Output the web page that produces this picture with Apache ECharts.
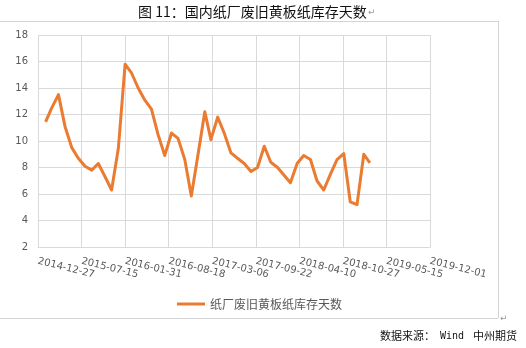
<!DOCTYPE html>
<html>
<head>
<meta charset="utf-8">
<script src="https://cdn.jsdelivr.net/npm/echarts@6/dist/echarts.min.js"></script>
<style>html,body{margin:0;padding:0;background:#fff;}#c{width:526px;height:348px;}</style>
</head>
<body>
<div id="c"></div>
<script>
const baseDate = '2014-12-27';
const tickLabels = ['2014-12-27','2015-07-15','2016-01-31','2016-08-18','2017-03-06','2017-09-22','2018-04-10','2018-10-27','2019-05-15','2019-12-01'];
const dates = [
  '2015-01-31','2015-02-28','2015-03-31','2015-04-30','2015-05-31','2015-06-30','2015-07-31','2015-08-31','2015-09-30','2015-10-31','2015-11-30','2015-12-31',
  '2016-01-31','2016-02-29','2016-03-31','2016-04-30','2016-05-31','2016-06-30','2016-07-31','2016-08-31','2016-09-30','2016-10-31','2016-11-30','2016-12-31',
  '2017-01-31','2017-02-28','2017-03-31','2017-04-30','2017-05-31','2017-06-30','2017-07-31','2017-08-31','2017-09-30','2017-10-31','2017-11-30','2017-12-31',
  '2018-01-31','2018-02-28','2018-03-31','2018-04-30','2018-05-31','2018-06-30','2018-07-31','2018-08-31','2018-09-30','2018-10-31','2018-11-30','2018-12-31',
  '2019-01-31','2019-02-28'
];
const inventoryDays = [
  11.45,12.5,13.5,11.1,9.5,8.7,8.1,7.8,8.3,7.3,6.3,9.45,
  15.8,15.15,14.0,13.1,12.4,10.5,8.9,10.6,10.2,8.6,5.85,9.0,
  12.2,10.1,11.8,10.6,9.1,8.7,8.3,7.7,8.0,9.6,8.4,8.0,
  7.4,6.85,8.3,8.9,8.6,7.0,6.3,7.5,8.6,9.05,5.4,5.2,
  9.0,8.35
];
const seriesName = '纸厂废旧黄板纸库存天数';
const titleText = '图 11：国内纸厂废旧黄板纸库存天数';

function dayOffset(d) {
  const p = d.split('-').map(Number), b = baseDate.split('-').map(Number);
  return (Date.UTC(p[0], p[1]-1, p[2]) - Date.UTC(b[0], b[1]-1, b[2])) / 86400000;
}
const tickStep = 200;
const points = dates.map((d, i) => [dayOffset(d), inventoryDays[i]]);

const chart = echarts.init(document.getElementById('c'));
chart.setOption({
  animation: false,
  backgroundColor: '#fff',
  grid: { left: 38, right: 96, top: 35, bottom: 101, containLabel: false },
  xAxis: {
    type: 'value', min: 0, max: tickStep * (tickLabels.length - 1), interval: tickStep,
    axisLine: { show: true, lineStyle: { color: '#d9d9d9' } },
    axisTick: { show: false },
    splitLine: { show: true, lineStyle: { color: '#d9d9d9', width: 1 } },
    axisLabel: {
      rotate: -14, margin: 14, color: '#595959', fontSize: 10, fontFamily: 'DejaVu Sans',
      showMinLabel: true, showMaxLabel: true,
      formatter: v => tickLabels[Math.round(v / tickStep)] || ''
    }
  },
  yAxis: {
    type: 'value', min: 2, max: 18, interval: 2,
    axisLine: { show: false }, axisTick: { show: false },
    splitLine: { show: true, lineStyle: { color: '#d9d9d9', width: 1 } },
    axisLabel: { color: '#595959', fontSize: 10, fontFamily: 'DejaVu Sans', margin: 10 }
  },
  legend: {
    data: [seriesName], left: 172, top: 293, icon: 'rect', itemWidth: 28, itemHeight: 3, itemGap: 4,
    textStyle: { color: '#595959', fontSize: 12, fontFamily: 'Noto Sans CJK SC' }
  },
  series: [{
    name: seriesName, type: 'line', data: points, showSymbol: false, symbol: 'none',
    lineStyle: { color: '#EA7B30', width: 3, join: 'round' }, itemStyle: { color: '#EA7B30' }
  }],
  graphic: [
    { type: 'text', left: 138, top: 5, style: { text: titleText, fill: '#111', font: '14px "Noto Sans CJK SC"' } },
    { type: 'text', left: 368, top: 8, style: { text: '↵', fill: '#999', font: '9px "DejaVu Sans"' } },
    { type: 'line', shape: { x1: 0, y1: 21.5, x2: 498, y2: 21.5 }, style: { stroke: '#d4d4d4', lineWidth: 1 } },
    { type: 'line', shape: { x1: 498.5, y1: 21, x2: 498.5, y2: 318 }, style: { stroke: '#d4d4d4', lineWidth: 1 } },
    { type: 'line', shape: { x1: 0, y1: 318.5, x2: 498, y2: 318.5 }, style: { stroke: '#d4d4d4', lineWidth: 1 } },
    { type: 'text', left: 500, top: 314, style: { text: '↵', fill: '#999', font: '9px "DejaVu Sans"' } },
    { type: 'text', left: 380, top: 330, style: { text: '数据来源：', fill: '#111', font: '11px "Noto Sans CJK SC"' } },
    { type: 'text', left: 440, top: 331, style: { text: 'Wind', fill: '#111', font: '10px "DejaVu Sans Mono"' } },
    { type: 'text', left: 473, top: 330, style: { text: '中州期货', fill: '#111', font: '11px "Noto Sans CJK SC"' } }
  ]
});
</script>
</body>
</html>
